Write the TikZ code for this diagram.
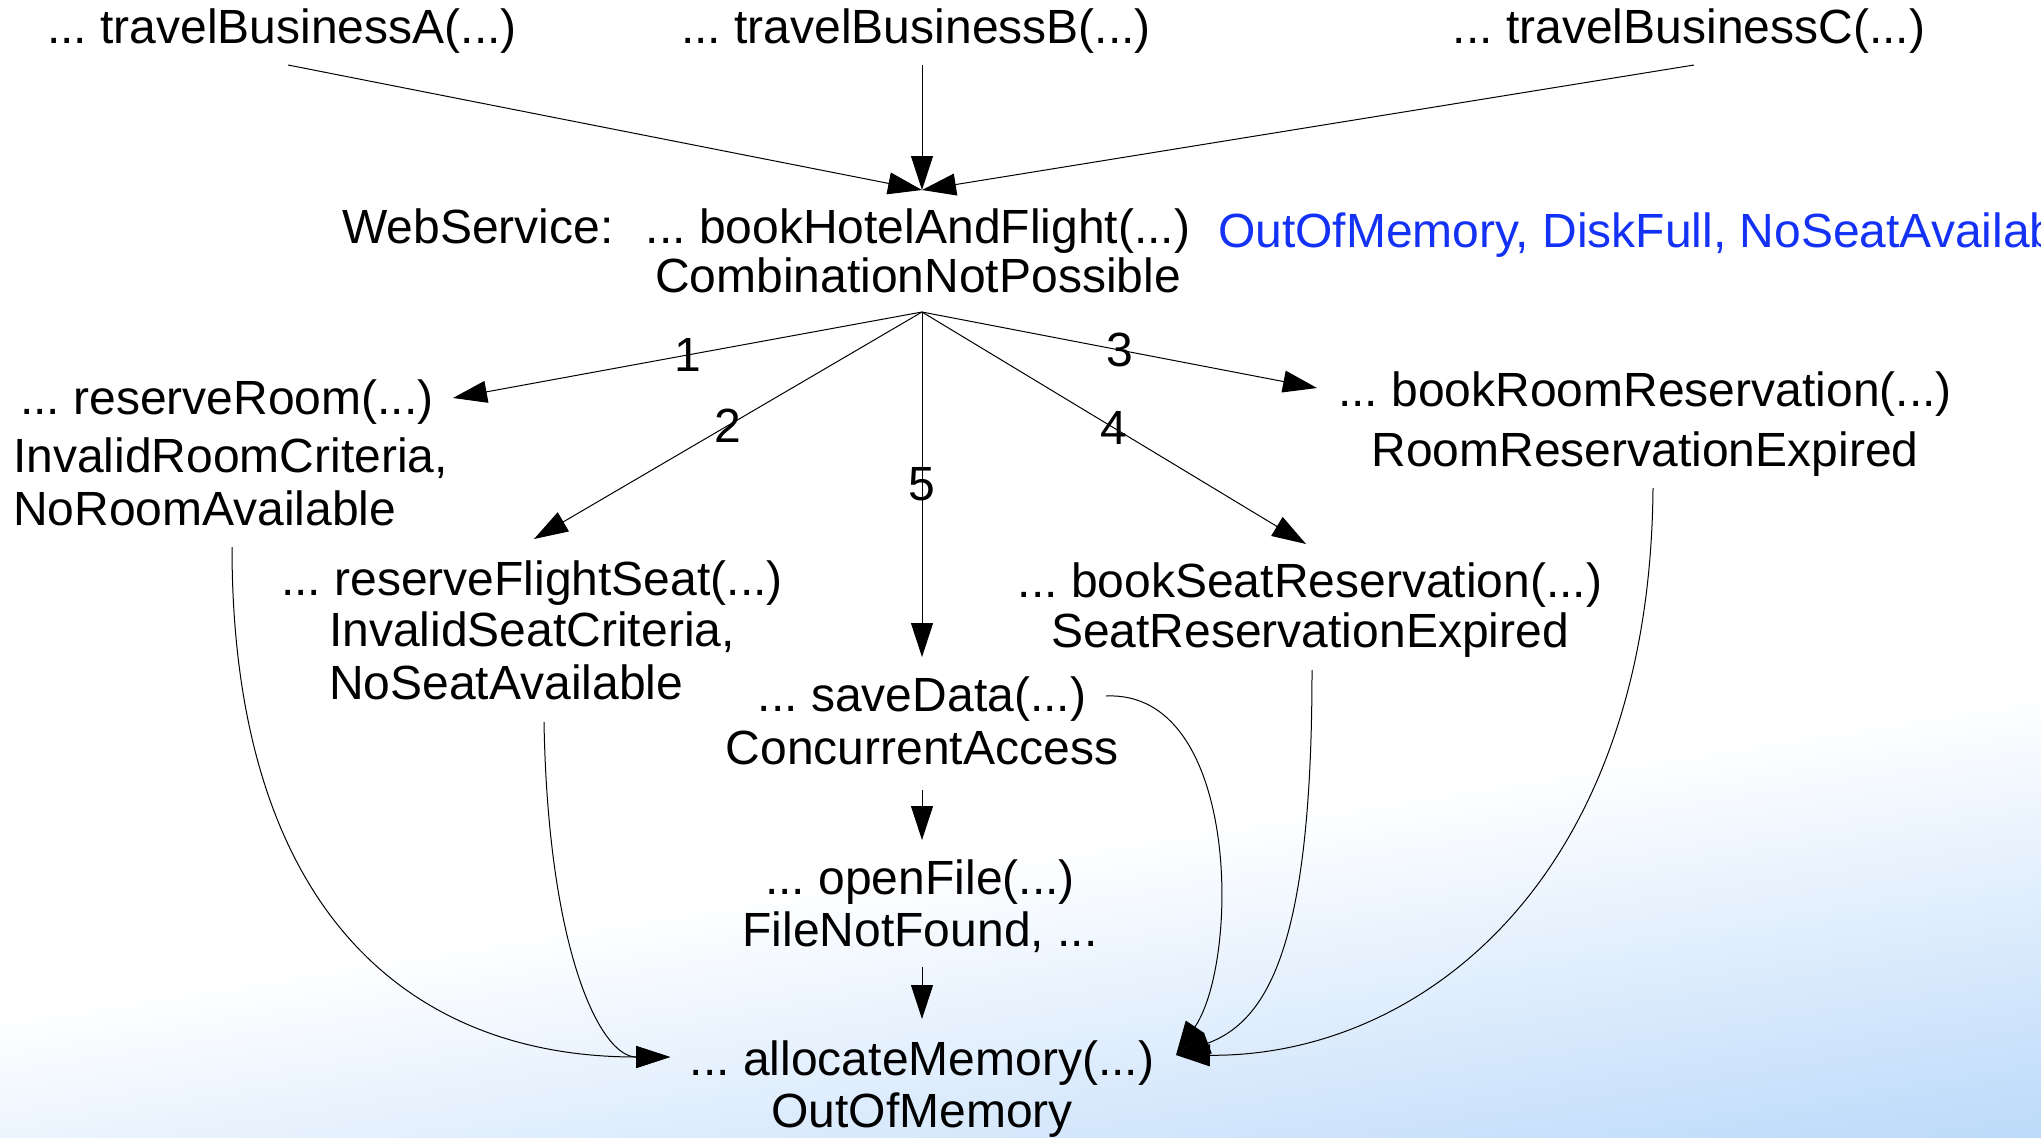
\documentclass[tikz,border=0pt]{standalone}
\usepackage{fontspec}
\setmainfont{Liberation Sans}
\usetikzlibrary{arrows.meta}
\frenchspacing

\definecolor{slideblue}{RGB}{188,218,250}
\definecolor{errblue}{RGB}{20,50,245}

% soft diagonal fade from white into light blue towards the lower right
\pgfdeclareverticalshading{slidefade}{100bp}{%
  color(0bp)=(slideblue); color(35bp)=(slideblue);
  color(44.2bp)=(white); color(100bp)=(white)}

\newcommand\callfont{\fontsize{48}{52}\selectfont}
\newcommand\callstack[2][c]{\begin{tabular}[t]{@{}#1@{}}#2\end{tabular}}

\begin{document}
\begin{tikzpicture}[x=1pt,y=-1pt,
  txt/.style={inner sep=0pt, outer sep=0pt, anchor=base, font=\callfont},
  num/.style={inner sep=0pt, font=\callfont},
  link/.style={line width=1pt, -{Triangle[length=34pt,width=22pt]}},
]
\useasboundingbox (0,0) rectangle (2041,1137);
\clip (0,0) rectangle (2041,1137);

% background
\begin{scope}[transform canvas={rotate around={9:(1020.5,568.5)}}]
  \shade[shading=slidefade] (-700,-631.5) rectangle (2741,1768.5);
\end{scope}

% callers
\node[txt] (travA) at (282,44)  {... travelBusinessA(...)};
\node[txt] (travB) at (916,44)  {... travelBusinessB(...)};
\node[txt] (travC) at (1689,44) {... travelBusinessC(...)};

% web service operation
\node[txt] (ws) at (478,243) {WebService:};
\node[txt] (hotel) at (918,243)
  {\callstack{... bookHotelAndFlight(...)\\[-3pt] CombinationNotPossible}};
\node[txt, anchor=base west, text=errblue] (errs) at (1218,247)
  {OutOfMemory, DiskFull, NoSeatAvailable};

% called operations
\node[txt, anchor=base west] (rr) at (13,414)
  {\callstack[l]{\hspace{7pt}... reserveRoom(...)\\[6pt] InvalidRoomCriteria,\\[1pt] NoRoomAvailable}};
\node[txt] (fs) at (532,595)
  {\callstack{... reserveFlightSeat(...)\\[-1pt] InvalidSeatCriteria,\\[1pt]
   \makebox[0pt][l]{NoSeatAvailable}\hphantom{InvalidSeatCriteria,}}};
\node[txt] (sd) at (922,711)
  {\callstack{... saveData(...)\\[1pt] ConcurrentAccess}};
\node[txt] (of) at (920,894)
  {\callstack{... openFile(...)\\ FileNotFound, ...}};
\node[txt] (am) at (922,1075)
  {\callstack{... allocateMemory(...)\\ OutOfMemory}};
\node[txt] (bs) at (1310,597)
  {\callstack{... bookSeatReservation(...)\\[-2pt] SeatReservationExpired}};
\node[txt] (br) at (1645,406)
  {\callstack{... bookRoomReservation(...)\\[8pt] RoomReservationExpired}};

% callers into the web service
\draw[link] ([shift={(6,21)}]travA.base) -- ([shift={(4,-53)}]hotel.base);
\draw[link] ([shift={(6,21)}]travB.base) -- ([shift={(4,-53)}]hotel.base);
\draw[link] ([shift={(5,21)}]travC.base) -- ([shift={(4,-53)}]hotel.base);

% numbered calls of the web service
\draw[link] ([shift={(4,69)}]hotel.base) -- node[num] {1} ([shift={(440,-16)}]rr.base west);
\draw[link] ([shift={(4,69)}]hotel.base) -- node[num] {2} ([shift={(2,-56)}]fs.base);
\draw[link] ([shift={(4,69)}]hotel.base) -- node[num] {3} ([shift={(-328,-18)}]br.base);
\draw[link] ([shift={(4,69)}]hotel.base) -- node[num] {4} ([shift={(-4,-53)}]bs.base);
\draw[link] ([shift={(4,69)}]hotel.base) -- node[num] {5} ([shift={(0,-54)}]sd.base);

% storage chain
\draw[link] ([shift={(0,79)}]sd.base) -- ([shift={(2,-54)}]of.base);
\draw[link] ([shift={(2,73)}]of.base) -- ([shift={(0,-56)}]am.base);

% everything ends up allocating memory
\draw[link] ([shift={(219,133)}]rr.base west)
  .. controls (232,900) and (400,1057) .. ([shift={(-252,-18)}]am.base);
\draw[link] ([shift={(12,127)}]fs.base)
  .. controls (548,950) and (600,1057) .. ([shift={(-252,-18)}]am.base);
\draw[link] ([shift={(184,-15)}]sd.base)
  .. controls (1240,690) and (1240,960) .. ([shift={(254,-20)}]am.base);
\draw[link] ([shift={(2,73)}]bs.base)
  .. controls (1312,940) and (1270,1020) .. ([shift={(254,-20)}]am.base);
\draw[link] ([shift={(8,82)}]br.base)
  .. controls (1650,880) and (1420,1057) .. ([shift={(254,-20)}]am.base);
\end{tikzpicture}
\end{document}
